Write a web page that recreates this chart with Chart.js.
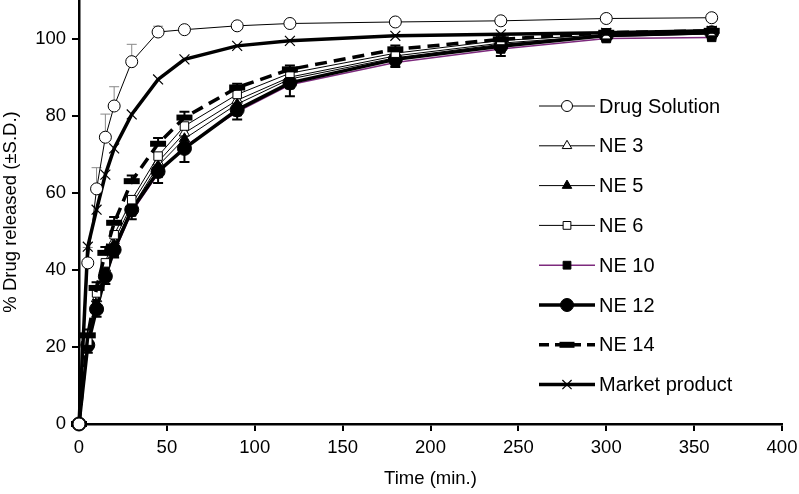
<!DOCTYPE html>
<html>
<head>
<meta charset="utf-8">
<script src="https://cdn.jsdelivr.net/npm/chart.js@4/dist/chart.umd.min.js"></script>
<style>
  html, body { margin: 0; padding: 0; background: #fff; }
  #wrap { width: 799px; height: 494px; }
</style>
</head>
<body>
<div id="wrap"><canvas id="myChart" width="799" height="494"></canvas></div>
<script>
// sampling times (min.)
const times = [0, 5, 10, 15, 20, 30, 45, 60, 90, 120, 180, 240, 300, 360];

// % drug released
const drugSolution = [0, 41.8, 61, 74.4, 82.5, 94, 101.7, 102.3, 103.3, 103.9, 104.3, 104.6, 105.2, 105.4];
const ne3 = [0, 20.5, 32.5, 40.5, 47.5, 57, 68, 75.5, 84, 90, 95.5, 98.8, 100.8, 101.5];
const ne5 = [0, 20.5, 31, 39.5, 46.5, 56, 67, 74, 83, 89.5, 95, 98.5, 100.5, 101.2];
const ne6 = [0, 21.5, 34, 41.8, 49.1, 58.2, 69.5, 77.3, 85.5, 91, 96.2, 99.5, 101, 101.8];
const ne10 = [0, 20, 30, 38, 44.5, 55, 65, 72, 81, 88, 93.8, 97.3, 100, 100.3];
const ne12 = [0, 20.5, 29.8, 38.3, 45.2, 55.6, 65.5, 71.5, 81.5, 88.5, 94.6, 98, 100.8, 101.5];
const ne14 = [0, 23, 35.3, 44.4, 52.2, 63, 72.7, 79.5, 87.3, 92, 97.2, 99.8, 101.5, 102];
const marketProduct = [0, 46, 55.6, 64.7, 71.5, 80.3, 89.4, 94.6, 98.1, 99.4, 100.7, 101.1, 101.5, 102];

// standard deviations (only the visible ones)
const sdDrugSolution = [0, 4, 5.5, 6, 5, 4.5, 1.5, 0.8, 0.8, 0.7, 0.7, 0.7, 1, 1];
const sdNe12 = [0, 2, 2, 2, 2, 2.5, 3, 3.5, 2.5, 3.5, 2, 2.5, 1.5, 1.5];
const sdNe14 = [0, 1.5, 1.5, 1.5, 1.5, 1.5, 1.5, 1.5, 1, 1, 1, 1, 1, 1];

const xTicks = [0, 50, 100, 150, 200, 250, 300, 350, 400];
const yTicks = [0, 20, 40, 60, 80, 100];

const FONT = 'Arial, "Liberation Sans", sans-serif';
const purple = '#7d2a7d';

function pts(arr) {
  return arr.map((v, i) => ({ x: times[i], y: v }));
}

const datasets = [
  { label: 'Drug Solution', data: pts(drugSolution), borderColor: '#000', borderWidth: 1,
    pointStyle: 'circle', pointRadius: 6, pointBorderWidth: 1, pointBackgroundColor: '#fff', pointBorderColor: '#000',
    sd: sdDrugSolution, sdDir: 1, sdColor: '#888', sdWidth: 1, order: 2 },
  { label: 'NE 3', data: pts(ne3), borderColor: '#000', borderWidth: 1,
    pointStyle: 'triangle', pointRadius: 6, pointBorderWidth: 1, pointBackgroundColor: '#fff', pointBorderColor: '#000', order: 9 },
  { label: 'NE 5', data: pts(ne5), borderColor: '#000', borderWidth: 1,
    pointStyle: 'triangle', pointRadius: 6, pointBorderWidth: 1, pointBackgroundColor: '#000', pointBorderColor: '#000', order: 8 },
  { label: 'NE 6', data: pts(ne6), borderColor: '#000', borderWidth: 1,
    pointStyle: 'rect', pointRadius: 6, pointBorderWidth: 1, pointBackgroundColor: '#fff', pointBorderColor: '#000', order: 5 },
  { label: 'NE 10', data: pts(ne10), borderColor: purple, borderWidth: 1.5,
    pointStyle: 'rect', pointRadius: 6, pointBorderWidth: 1, pointBackgroundColor: '#000', pointBorderColor: '#000', order: 7 },
  { label: 'NE 12', data: pts(ne12), borderColor: '#000', borderWidth: 3.5,
    pointStyle: 'circle', pointRadius: 7, pointBorderWidth: 1, pointBackgroundColor: '#000', pointBorderColor: '#000',
    sd: sdNe12, sdDir: -1, sdColor: '#000', sdWidth: 2, order: 6 },
  { label: 'NE 14', data: pts(ne14), borderColor: '#000', borderWidth: 3.5, borderDash: [12, 7],
    pointStyle: 'line', pointRadius: 8, pointBorderWidth: 6, pointBackgroundColor: '#000', pointBorderColor: '#000',
    sd: sdNe14, sdDir: 1, sdColor: '#000', sdWidth: 2, order: 4 },
  { label: 'Market product', data: pts(marketProduct), borderColor: '#000', borderWidth: 3.5,
    pointStyle: 'crossRot', pointRadius: 7, pointBorderWidth: 1.2, pointBackgroundColor: '#000', pointBorderColor: '#000', order: 3 }
];
datasets.forEach(ds => { ds.clip = false; });

// error bars drawn under the markers
const errorBars = {
  id: 'errorBars',
  beforeDatasetsDraw(chart) {
    const { ctx, scales: { x, y } } = chart;
    chart.data.datasets.forEach(ds => {
      if (!ds.sd) return;
      ctx.save();
      ctx.strokeStyle = ds.sdColor;
      ctx.lineWidth = ds.sdWidth;
      ds.data.forEach((p, i) => {
        const s = ds.sd[i];
        if (!s) return;
        const px = x.getPixelForValue(p.x);
        const y0 = y.getPixelForValue(p.y);
        const y1 = y.getPixelForValue(p.y + ds.sdDir * s);
        ctx.beginPath();
        ctx.moveTo(px, y0); ctx.lineTo(px, y1);
        ctx.moveTo(px - 5, y1); ctx.lineTo(px + 5, y1);
        ctx.stroke();
      });
      ctx.restore();
    });
  }
};

// legend on the right with line samples
const sideLegend = {
  id: 'sideLegend',
  afterDraw(chart) {
    const ctx = chart.ctx;
    chart.data.datasets.forEach((ds, i) => {
      const yy = 106 + i * 39.8;
      ctx.save();
      ctx.strokeStyle = ds.borderColor;
      ctx.lineWidth = ds.borderWidth;
      ctx.setLineDash(ds.borderDash ? [10, 6] : []);
      ctx.beginPath();
      ctx.moveTo(539, yy); ctx.lineTo(595, yy);
      ctx.stroke();
      ctx.setLineDash([]);
      ctx.fillStyle = ds.pointBackgroundColor;
      ctx.strokeStyle = ds.pointBorderColor;
      ctx.lineWidth = ds.pointBorderWidth;
      Chart.helpers.drawPoint(ctx, { pointStyle: ds.pointStyle, radius: ds.pointRadius - 0.5, borderWidth: ds.pointBorderWidth }, 567, yy);
      ctx.fillStyle = '#000';
      ctx.font = '20px ' + FONT;
      ctx.textBaseline = 'middle';
      ctx.textAlign = 'left';
      ctx.fillText(ds.label, 599, yy + 1);
      ctx.restore();
    });
  }
};

const ctx = document.getElementById('myChart').getContext('2d');

const myChart = new Chart(ctx, {
  type: 'line',
  data: { datasets },
  options: {
    responsive: false,
    animation: false,
    layout: { autoPadding: false, padding: { top: 0, right: 17, left: 0, bottom: 0 } },
    elements: { line: { tension: 0, fill: false } },
    plugins: { legend: { display: false }, tooltip: { enabled: false } },
    scales: {
      x: {
        type: 'linear', min: 0, max: 400,
        afterBuildTicks: s => { s.ticks = xTicks.map(v => ({ value: v })); },
        afterFit: s => { s.height = 70; s.paddingLeft = 0; s.paddingRight = 0; },
        grid: { drawOnChartArea: false, color: '#000', lineWidth: 2, tickLength: 7 },
        border: { color: '#000', width: 2.5 },
        ticks: { color: '#000', font: { family: FONT, size: 18.5 }, padding: 6, maxRotation: 0 },
        title: { display: true, text: 'Time (min.)', color: '#000', font: { family: FONT, size: 18.5 }, padding: { top: 0, bottom: 4 } }
      },
      y: {
        type: 'linear', min: 0, max: 110,
        afterBuildTicks: s => { s.ticks = yTicks.map(v => ({ value: v })); },
        afterFit: s => { s.width = 79; s.paddingTop = 0; s.paddingBottom = 0; },
        grid: { drawOnChartArea: false, color: '#000', lineWidth: 2, tickLength: 7 },
        border: { color: '#000', width: 2.5 },
        ticks: { color: '#000', font: { family: FONT, size: 18.5 }, padding: 6 },
        title: { display: true, text: '% Drug released (±S.D.)', color: '#000', font: { family: FONT, size: 18.5 }, padding: { top: 0, bottom: 6 } }
      }
    }
  },
  plugins: [errorBars, sideLegend]
});
</script>
</body>
</html>
